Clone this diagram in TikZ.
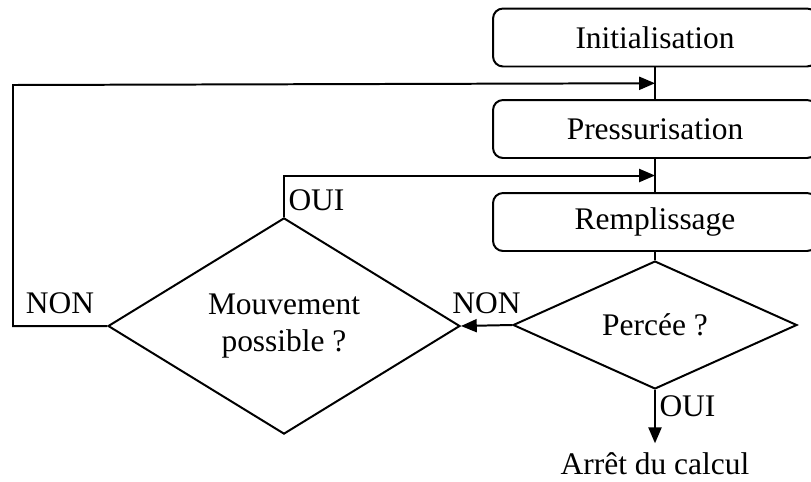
\documentclass[tikz,border=0pt]{standalone}
\usepackage{fontspec}
\setmainfont{Liberation Serif}
\usetikzlibrary{shapes.geometric,arrows.meta,calc}

\tikzset{
    stage/.style={rectangle, draw=black, rounded corners=0.2cm, minimum width=6.48cm, minimum height=1.16cm, inner sep=0pt},
    test/.style={diamond, draw=black, inner sep=0pt, align=center},
    answer/.style={inner sep=2pt}
}

\begin{document}
\begin{tikzpicture}[x=0.02cm, y=-0.02cm, >={Triangle[length=9pt, width=7.4pt]}, line width=1.13pt,
        font=\fontsize{17.9}{21}\selectfont]
        \useasboundingbox (0,0) rectangle (811,481);
        \clip (0,0) rectangle (811,481);
        % Stages
        \node[stage] (init) at (655,37.5) {Initialisation};
        \node[stage] (press) at (655,129) {Pressurisation};
        \node[stage] (rempl) at (655,222) {Remplissage};
        % Tests
        \node[test, minimum width=5.68cm, minimum height=1.88cm] (perce) at (655,325) {Perc\'ee ?};
        \node[test, minimum width=7.04cm, minimum height=3.36cm] (mouv) at (284,326) {Mouvement\\possible ?};
        % End of run
        \node[anchor=base] (arret) at (655,474) {Arr\^et du calcul};
        % Junctions on the main line
        \coordinate (j1) at ($(init.south)!0.5!(press.north)$);
        \coordinate (j2) at ($(press.south)!0.5!(rempl.north)$);
        \coordinate (back) at (13,85);
        % Main line
        \draw (init) -- (press);
        \draw (press) -- (rempl);
        \draw (rempl) -- (perce);
        \draw[->] (perce.south) -- node[answer, right, pos=0.3] {OUI} ($(arret.north)+(0,-2)$);
        \draw[->] (perce.west) -- node[above=3pt] {NON} (mouv.east);
        % Loops back
        \draw[->] (mouv.north) |- node[answer, right, pos=0.2] {OUI} (j2);
        \draw[->] (mouv.west) -| node[above=3pt, pos=0.25] {NON} (back) -- (j1);
    \end{tikzpicture}
\end{document}
